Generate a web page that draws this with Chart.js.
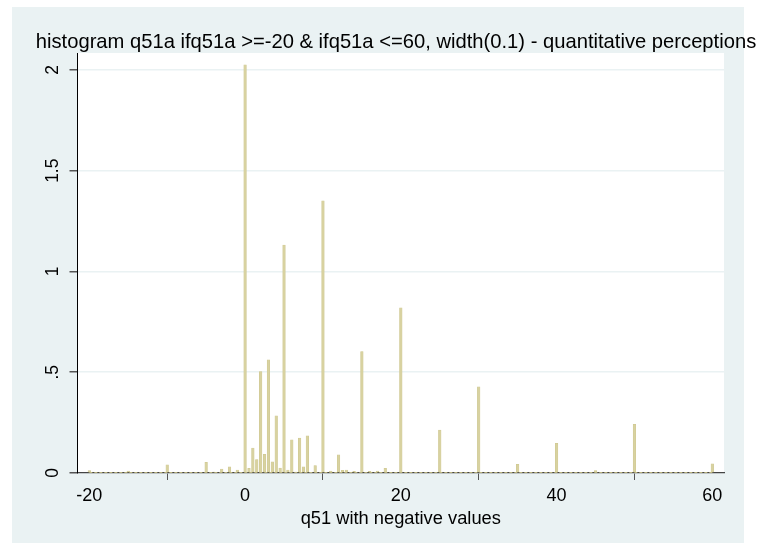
<!DOCTYPE html>
<html>
<head>
<meta charset="utf-8">
<script src="https://cdn.jsdelivr.net/npm/chart.js@4.4.1/dist/chart.umd.min.js"></script>
<style>
  html, body { margin: 0; padding: 0; background: #ffffff; }
  #wrap { width: 761px; height: 543px; position: relative; }
</style>
</head>
<body>
<div id="wrap"><canvas id="hist" width="761" height="543"></canvas></div>
<script>
// bin centres of q51a (width 0.1 bins) and their density
const binCenters = [-20, -15, -10, -5, -4, -3, -2, -1, 0, 0.5, 1, 1.5, 2, 2.5, 3, 3.5, 4, 4.5, 5, 5.5,
    6, 6.5, 7, 7.5, 8, 9, 10, 11, 12, 12.5, 13, 14, 15, 16, 17, 18, 20, 25, 30, 35, 40, 45, 50, 60];
const density = [0.012, 0.010, 0.040, 0.053, 0.005, 0.020, 0.031, 0.015, 2.025, 0.023, 0.124, 0.067, 0.503, 0.093, 0.561, 0.055, 0.284, 0.024, 1.131, 0.015,
    0.165, 0.005, 0.173, 0.031, 0.185, 0.037, 1.351, 0.010, 0.090, 0.013, 0.015, 0.008, 0.602, 0.008, 0.010, 0.023, 0.819, 0.213, 0.428, 0.043, 0.147, 0.012, 0.242, 0.045];

const xTicks = [-20, 0, 20, 40, 60];
const yTicks = [0, 0.5, 1, 1.5, 2];
const yTickLabels = ['0', '.5', '1', '1.5', '2'];
const xRange = [-20, 60];

const titleText = 'histogram q51a ifq51a >=-20 & ifq51a <=60, width(0.1) - quantitative perceptions';
const xTitle = 'q51 with negative values';

const FONT = '"Liberation Sans", Arial, sans-serif';
const PANEL = '#eaf2f3';

// panel background, white plot region, title and rotated y labels
const stataLook = {
    id: 'stataLook',
    beforeDraw(chart) {
        const ctx = chart.ctx;
        const a = chart.chartArea;
        ctx.save();
        ctx.fillStyle = '#ffffff';
        ctx.fillRect(0, 0, chart.width, chart.height);
        ctx.fillStyle = PANEL;
        ctx.fillRect(12, 7, 732, 536);
        ctx.fillStyle = '#ffffff';
        ctx.fillRect(a.left, a.top, a.right - a.left, a.bottom - a.top);
        ctx.restore();
    },
    afterDraw(chart) {
        const ctx = chart.ctx;
        const y = chart.scales.y;
        ctx.save();
        ctx.fillStyle = '#000';
        ctx.font = '20.2px ' + FONT;
        ctx.textAlign = 'center';
        ctx.textBaseline = 'middle';
        ctx.fillText(titleText, 396, 42);

        ctx.font = '17.5px ' + FONT;
        yTicks.forEach((v, i) => {
            const py = y.getPixelForValue(v);
            ctx.save();
            ctx.translate(53, py);
            ctx.rotate(-Math.PI / 2);
            ctx.fillText(yTickLabels[i], 0, 0);
            ctx.restore();
        });
        ctx.restore();
    }
};

new Chart(document.getElementById('hist').getContext('2d'), {
    type: 'bar',
    data: {
        datasets: [{
            type: 'line',
            data: xRange.map(v => ({ x: v, y: 0 })),
            borderColor: '#b9b27c',
            borderWidth: 2,
            borderDash: [3, 2],
            pointRadius: 0,
            order: 0
        }, {
            data: binCenters.map((v, i) => ({ x: v, y: density[i] })),
            backgroundColor: '#d8d2a0',
            borderColor: '#cdc68f',
            borderWidth: 0.5,
            barThickness: 2.6,
            order: 1
        }]
    },
    options: {
        responsive: false,
        animation: false,
        layout: { padding: { left: 0, right: 37, top: 53, bottom: 0 } },
        plugins: {
            legend: { display: false },
            tooltip: { enabled: false }
        },
        scales: {
            x: {
                type: 'linear',
                offset: false,
                min: -21.52,
                max: 61.5,
                afterBuildTicks: s => { s.ticks = xTicks.map(v => ({ value: v })); },
                afterFit: s => { s.height = 70; },
                grid: { drawOnChartArea: false, drawTicks: true, tickLength: 7, tickColor: '#555', color: '#555' },
                border: { color: '#444', width: 1.2 },
                ticks: { color: '#000', font: { family: FONT, size: 18 }, padding: 5, maxRotation: 0 },
                title: {
                    display: true,
                    text: xTitle,
                    color: '#000',
                    font: { family: FONT, size: 18.3 },
                    padding: { top: 0, bottom: 13 }
                }
            },
            y: {
                min: 0,
                max: 2.084,
                afterBuildTicks: s => { s.ticks = yTicks.map(v => ({ value: v })); },
                afterFit: s => { s.width = 77.5; },
                grid: { color: PANEL, lineWidth: 1.5, drawTicks: true, tickLength: 8, tickColor: '#555' },
                border: { color: '#000', width: 1 },
                ticks: { display: false }
            }
        }
    },
    plugins: [stataLook]
});
</script>
</body>
</html>
